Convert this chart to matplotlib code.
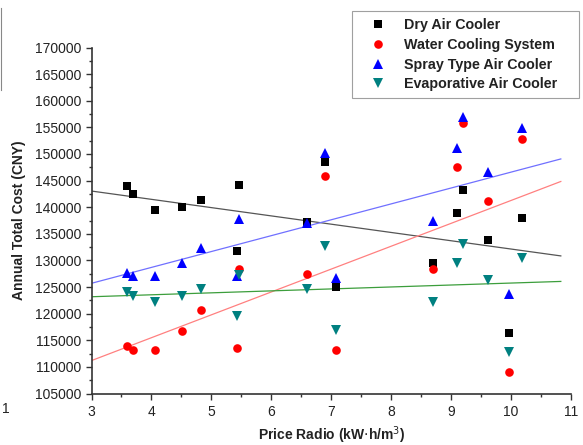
import numpy as np
import matplotlib
matplotlib.use("Agg")
import matplotlib.pyplot as plt
from matplotlib.lines import Line2D

plt.rcParams['font.family'] = ['Liberation Sans', 'DejaVu Sans']

# ---- data ----
price_ratio = [3.60, 3.70, 4.06, 4.51, 4.83, 5.43, 5.46, 6.59, 6.90, 7.08,
               8.70, 9.10, 9.19, 9.61, 9.96, 10.18]
dry_air = [144000, 142400, 139400, 140000, 141400, 131700, 144100, 137200,
           148400, 125100, 129600, 139000, 143250, 133900, 116400, 137900]
water_cooling = [113900, 113250, 113100, 116700, 120600, 113600, 128400, 127500,
                 145900, 113100, 128300, 147500, 155800, 141200, 109000, 152800]
spray_type = [127600, 127100, 127000, 129600, 132400, 127000, 137800, 137000,
              150100, 126750, 137500, 151100, 157000, 146600, 123600, 154800]
evaporative = [124100, 123400, 122200, 123300, 124700, 119500, 127300, 124600,
               132800, 117000, 122100, 129600, 133000, 126400, 112800, 130400]

series_names = ["Dry Air Cooler", "Water Cooling System",
                "Spray Type Air Cooler", "Evaporative Air Cooler"]
x_ticks = [3, 4, 5, 6, 7, 8, 9, 10, 11]
y_ticks = list(range(105000, 170001, 5000))

# ---- figure ----
W, H = 583, 445
fig = plt.figure(figsize=(W / 100, H / 100), dpi=100)
ax = fig.add_axes([91.5 / W, 1 - 393.5 / H, (571 - 91.5) / W, (393.5 - 47.5) / H])

styles = [
    dict(marker='s', color='black', ms=6.0, fit='#555555'),
    dict(marker='o', color='#ff0000', ms=6.2, fit='#ff8080'),
    dict(marker='^', color='#0000ff', ms=6.8, fit='#7070ff'),
    dict(marker='v', color='#008080', ms=6.8, fit='#3c9e3c'),
]
data = [dry_air, water_cooling, spray_type, evaporative]

x = np.array(price_ratio)
xfit = np.array([3.0, 10.83])
handles = []
for name, y, st in zip(series_names, data, styles):
    h, = ax.plot(x, y, linestyle='none', marker=st['marker'], color=st['color'],
                 markersize=st['ms'], markeredgewidth=0, label=name, zorder=3)
    handles.append(h)
    k, b = np.polyfit(x, np.array(y, dtype=float), 1)
    ax.plot(xfit, k * xfit + b, color=st['fit'], lw=0.9, zorder=2)

ax.set_xlim(3, 11)
ax.set_ylim(105000, 170000)
ax.set_xticks(x_ticks)
ax.set_yticks(y_ticks)
ax.set_xticks(np.arange(3.5, 11, 1), minor=True)
ax.set_yticks(np.arange(107500, 170000, 5000), minor=True)
ax.tick_params(axis='both', which='major', direction='out', length=4.5, width=1,
               labelsize=10, colors='#333333', labelcolor='#222222')
ax.tick_params(axis='both', which='minor', direction='out', length=2.5, width=1,
               colors='#333333')
ax.tick_params(axis='x', pad=4)
ax.tick_params(axis='y', pad=3)
for s in ['top', 'right']:
    ax.spines[s].set_visible(False)
for s in ['left', 'bottom']:
    ax.spines[s].set_color('#333333')
    ax.spines[s].set_linewidth(1.2)

ax.set_xlabel(r"Price Radio (kW$\cdot$h/m$^{3}$)", fontsize=10, fontweight='bold',
              color='#222222', labelpad=4)
ax.set_ylabel("Annual Total Cost (CNY)", fontsize=10, fontweight='bold',
              color='#222222', labelpad=6)

leg = fig.legend(handles=handles, loc='upper left',
                 bbox_to_anchor=(352 / W, 1 - 92.5 / H, (579 - 352) / W, (92.5 - 11) / H),
                 mode='expand', frameon=True,
                 fancybox=False, edgecolor='#888888',
                 prop={'weight': 'bold', 'size': 10.3}, handlelength=2.6,
                 handletextpad=0.55, borderpad=0.5, labelspacing=0.4,
                 borderaxespad=0)
leg.get_frame().set_linewidth(0.8)
for t in leg.get_texts():
    t.set_color('#222222')

# cropped artefacts at the left edge of the reference image
fig.text(2 / W, 1 - 409 / H, "1", fontsize=10, color='#222222', va='center', ha='left')
fig.add_artist(Line2D([1.2 / W, 1.2 / W], [1 - 8 / H, 1 - 90 / H],
                      transform=fig.transFigure, color='#888888', lw=0.8))

fig.savefig("out.png", dpi=100)
